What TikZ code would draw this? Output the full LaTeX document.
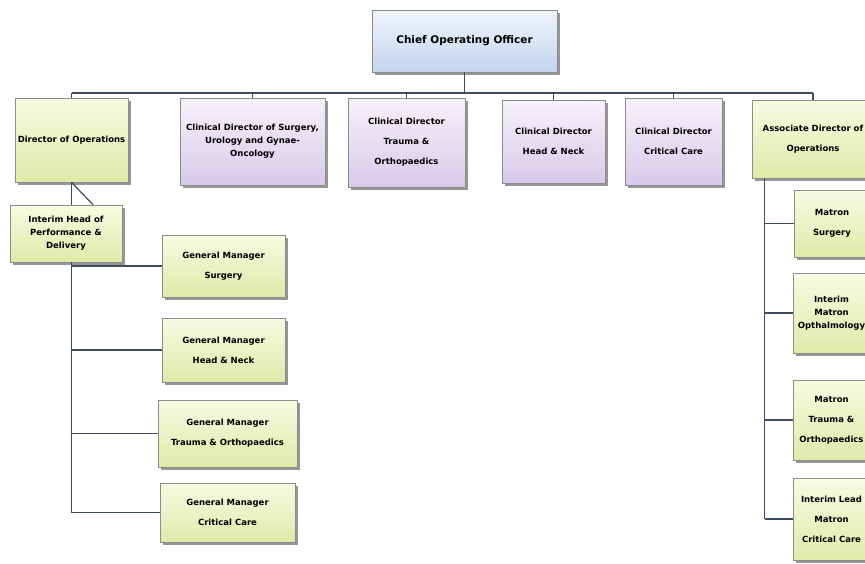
\documentclass[tikz,border=0pt]{standalone}
\usepackage{fontspec}
\setmainfont{DejaVu Sans}
\usetikzlibrary{shadows, calc}

\definecolor{linkgrey}{HTML}{3E4C5E}
\definecolor{greentop}{HTML}{F7FBE2}
\definecolor{greenbot}{HTML}{DFEAA9}
\definecolor{purptop}{HTML}{F5F1FA}
\definecolor{purpbot}{HTML}{D8CAEA}
\definecolor{bluetop}{HTML}{F0F4FC}
\definecolor{bluebot}{HTML}{C3D4EF}

\begin{document}
\begin{tikzpicture}[x=1pt, y=-1pt,
    link/.style={draw=linkgrey, line width=1.2pt},
    box/.style={draw=black!45, line width=0.6pt, align=center, inner sep=2pt,
        drop shadow={shadow xshift=2.5pt, shadow yshift=-3pt, fill=black!75, opacity=0.55},
        font=\fontsize{8.5}{13}\selectfont\bfseries},
    boxsize/.style 2 args={minimum width=#1pt, minimum height=#2pt},
    opsbox/.style={box, top color=greentop, bottom color=greenbot},
    clinbox/.style={box, top color=purptop, bottom color=purpbot},
    topbox/.style={box, top color=bluetop, bottom color=bluebot, font=\fontsize{10.5}{13}\selectfont\bfseries},
    wide/.style={font=\fontsize{8.5}{20}\selectfont\bfseries}]

    \fill[white] (0,0) rectangle (865,563);
    \useasboundingbox (0,0) rectangle (865,563);

    % Chief Operating Officer
    \node[topbox, boxsize={185}{62}] (coo) at (464.5,41) {Chief Operating Officer};

    % Directors
    \node[opsbox, boxsize={113}{84}] (dops) at (71.5,140) {Director of Operations};
    \node[clinbox, boxsize={145}{87}] (cdsurg) at (252.5,141.5) {Clinical Director of Surgery,\\Urology and Gynae-\\Oncology};
    \node[clinbox, wide, boxsize={117}{89}] (cdtrauma) at (406.5,142.5) {Clinical Director\\Trauma \&\\Orthopaedics};
    \node[clinbox, wide, boxsize={103}{83}] (cdhn) at (553.5,141.5) {Clinical Director\\Head \& Neck};
    \node[clinbox, wide, boxsize={97}{87}] (cdcc) at (673.5,141.5) {Clinical Director\\Critical Care};
    \node[opsbox, wide, boxsize={122}{78}] (assoc) at (813,139) {Associate Director of\\Operations};

    % Under Director of Operations
    \node[opsbox, boxsize={112}{57}] (ihead) at (66,233.5) {Interim Head of\\Performance \&\\Delivery};
    \node[opsbox, wide, boxsize={123}{62}] (gmsurg) at (223.5,266) {General Manager\\Surgery};
    \node[opsbox, wide, boxsize={123}{64}] (gmhn) at (223.5,350) {General Manager\\Head \& Neck};
    \node[opsbox, wide, boxsize={139}{67}] (gmtrauma) at (227.5,433.5) {General Manager\\Trauma \& Orthopaedics};
    \node[opsbox, wide, boxsize={135}{59}] (gmcc) at (227.5,512.5) {General Manager\\Critical Care};

    % Matrons
    \node[opsbox, wide, boxsize={75}{67}] (msurg) at (832,223.5) {Matron\\Surgery};
    \node[opsbox, boxsize={77}{80}] (imopth) at (831.5,313) {Interim\\Matron\\Opthalmology};
    \node[opsbox, wide, boxsize={77}{80}] (mtrauma) at (831.5,420) {Matron\\Trauma \&\\Orthopaedics};
    \node[opsbox, wide, boxsize={77}{82}] (ilead) at (831.5,519) {Interim Lead\\Matron\\Critical Care};

    % Top bus
    \coordinate (bus) at (464.5,93);
    \draw[link] (coo.south) -- (coo.south |- bus);
    \draw[link] (dops.north |- bus) -- (assoc.north |- bus);
    \foreach \n in {dops,cdsurg,cdtrauma,cdhn,cdcc,assoc}
        \draw[link] (\n.north |- bus) -- (\n.north);

    % Director of Operations branch
    \draw[link] (dops.south) -- (dops.south |- ihead.north);
    \draw[link] (dops.south) -- ([xshift=27pt]ihead.north);
    \draw[link] (dops.south |- ihead.south) -- (dops.south |- gmcc.west);
    \foreach \n in {gmsurg,gmhn,gmtrauma,gmcc}
        \draw[link] (dops.south |- \n.west) -- (\n.west);

    % Associate Director branch
    \coordinate (mline) at ([xshift=13pt]assoc.south west);
    \draw[link] (mline) -- (mline |- ilead.west);
    \foreach \n in {msurg,imopth,mtrauma,ilead}
        \draw[link] (mline |- \n.west) -- (\n.west);
\end{tikzpicture}
\end{document}
